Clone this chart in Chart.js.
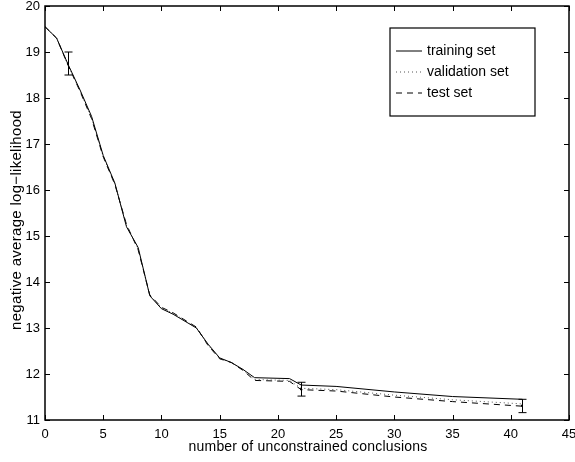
<!DOCTYPE html>
<html>
<head>
<meta charset="utf-8">
<script src="https://cdn.jsdelivr.net/npm/chart.js@4.4.0/dist/chart.umd.min.js"></script>
<style>
  html, body { margin: 0; padding: 0; background: #fff; }
  #wrap { width: 575px; height: 462px; }
</style>
</head>
<body>
<div id="wrap"><canvas id="chart"></canvas></div>
<script>
// data
const xVals = [0, 1, 2, 3, 4, 5, 6, 7, 8, 9, 10, 11, 13, 14, 15, 16, 17, 18, 21, 22, 25, 30, 35, 41];
const training = [19.55, 19.3, 18.72, 18.18, 17.6, 16.75, 16.15, 15.2, 14.75, 13.7, 13.42, 13.3, 13.0, 12.65, 12.35, 12.25, 12.1, 11.92, 11.9, 11.76, 11.73, 11.61, 11.51, 11.45];
const validation = [19.55, 19.3, 18.7, 18.16, 17.57, 16.73, 16.13, 15.23, 14.72, 13.71, 13.44, 13.32, 13.01, 12.63, 12.34, 12.25, 12.09, 11.88, 11.86, 11.69, 11.66, 11.54, 11.44, 11.35];
const testSet = [19.55, 19.3, 18.7, 18.15, 17.55, 16.72, 16.12, 15.25, 14.7, 13.72, 13.45, 13.33, 13.02, 12.62, 12.33, 12.25, 12.08, 11.86, 11.84, 11.66, 11.63, 11.5, 11.4, 11.3];

const errX = [2, 22, 41];
const errLow = [18.5, 11.52, 11.16];
const errHigh = [19.0, 11.82, 11.45];
const errMid = [18.75, 11.67, 11.31];

const xTicks = [0, 5, 10, 15, 20, 25, 30, 35, 40, 45];
const yTicks = [11, 12, 13, 14, 15, 16, 17, 18, 19, 20];

const xTitle = 'number of unconstrained conclusions';
const yTitle = 'negative average log\u2212likelihood';

const FONT = 'Liberation Sans, Arial, Helvetica, sans-serif';

function pts(ys) {
  return xVals.map((x, i) => ({ x: x, y: ys[i] }));
}

// matlab style box, inward ticks, error bars, titles and legend
const matlabBox = {
  id: 'matlabBox',
  afterDatasetsDraw(chart) {
    const c = chart.ctx, a = chart.chartArea;
    const xs = chart.scales.x, ys = chart.scales.y;
    c.save();
    c.strokeStyle = '#000';
    c.lineWidth = 1;
    c.setLineDash([]);

    // error bars
    errX.forEach((x, i) => {
      const px = Math.round(xs.getPixelForValue(x)) + 0.5;
      const lo = ys.getPixelForValue(errLow[i]);
      const hi = ys.getPixelForValue(errHigh[i]);
      c.beginPath();
      c.moveTo(px, lo); c.lineTo(px, hi);
      c.moveTo(px - 4, lo); c.lineTo(px + 4, lo);
      c.moveTo(px - 4, hi); c.lineTo(px + 4, hi);
      c.stroke();
      c.fillStyle = '#000';
      c.fillRect(px - 1.5, ys.getPixelForValue(errMid[i]) - 1, 2, 2);
    });

    // frame
    c.lineWidth = 1.5;
    c.strokeRect(a.left, a.top, a.right - a.left, a.bottom - a.top);
    c.lineWidth = 1;
    c.beginPath();
    xTicks.forEach(t => {
      const px = Math.round(xs.getPixelForValue(t)) + 0.5;
      c.moveTo(px, a.bottom); c.lineTo(px, a.bottom - 5);
      c.moveTo(px, a.top); c.lineTo(px, a.top + 5);
    });
    yTicks.forEach(t => {
      const py = Math.round(ys.getPixelForValue(t)) + 0.5;
      c.moveTo(a.left, py); c.lineTo(a.left + 5, py);
      c.moveTo(a.right, py); c.lineTo(a.right - 5, py);
    });
    c.stroke();

    // axis titles
    c.fillStyle = '#000';
    c.textAlign = 'center';
    c.textBaseline = 'middle';
    c.font = '14px ' + FONT;
    c.letterSpacing = '0.2px';
    c.fillText(xTitle, 308, 447);
    c.save();
    c.translate(17, 220);
    c.rotate(-Math.PI / 2);
    c.font = '15px ' + FONT;
    c.letterSpacing = '0.3px';
    c.fillText(yTitle, 0, 0);
    c.restore();
    c.letterSpacing = '0px';

    // legend box
    const lx = 390, ly = 28, lw = 145, lh = 88;
    c.textAlign = 'left';
    c.fillStyle = '#fff';
    c.fillRect(lx, ly, lw, lh);
    c.lineWidth = 1.2;
    c.strokeRect(lx, ly, lw, lh);
    c.font = '14px ' + FONT;
    c.fillStyle = '#000';
    chart.data.datasets.forEach((ds, i) => {
      const yy = ly + 23 + i * 21;
      c.strokeStyle = ds.borderColor;
      c.lineWidth = 1;
      c.setLineDash(ds.borderDash || []);
      c.beginPath();
      c.moveTo(lx + 6, yy); c.lineTo(lx + 32, yy);
      c.stroke();
      c.setLineDash([]);
      c.fillText(ds.label, lx + 37, yy);
    });
    c.restore();
  }
};

new Chart(document.getElementById('chart'), {
  type: 'line',
  data: {
    datasets: [
      { label: 'training set', data: pts(training), borderColor: '#000', borderWidth: 1, pointRadius: 0, tension: 0 },
      { label: 'validation set', data: pts(validation), borderColor: '#555', borderWidth: 1, borderDash: [1, 3], pointRadius: 0, tension: 0 },
      { label: 'test set', data: pts(testSet), borderColor: '#000', borderWidth: 1, borderDash: [6, 5], pointRadius: 0, tension: 0 }
    ]
  },
  options: {
    responsive: true,
    maintainAspectRatio: false,
    animation: false,
    layout: { padding: { top: 6, right: 6, left: 0, bottom: 0 } },
    plugins: { legend: { display: false }, tooltip: { enabled: false } },
    scales: {
      x: {
        type: 'linear', min: 0, max: 45,
        grid: { display: false, drawTicks: false },
        border: { display: false },
        ticks: { stepSize: 5, padding: 7, color: '#000', font: { family: FONT, size: 13 }, maxRotation: 0 },
        afterFit: s => { s.height = 42; s.paddingLeft = 0; s.paddingRight = 0; }
      },
      y: {
        min: 11, max: 20,
        grid: { display: false, drawTicks: false },
        border: { display: false },
        ticks: { stepSize: 1, padding: 5, color: '#000', font: { family: FONT, size: 13 } },
        afterFit: s => { s.width = 45; s.paddingTop = 0; s.paddingBottom = 0; }
      }
    }
  },
  plugins: [matlabBox]
});
</script>
</body>
</html>
